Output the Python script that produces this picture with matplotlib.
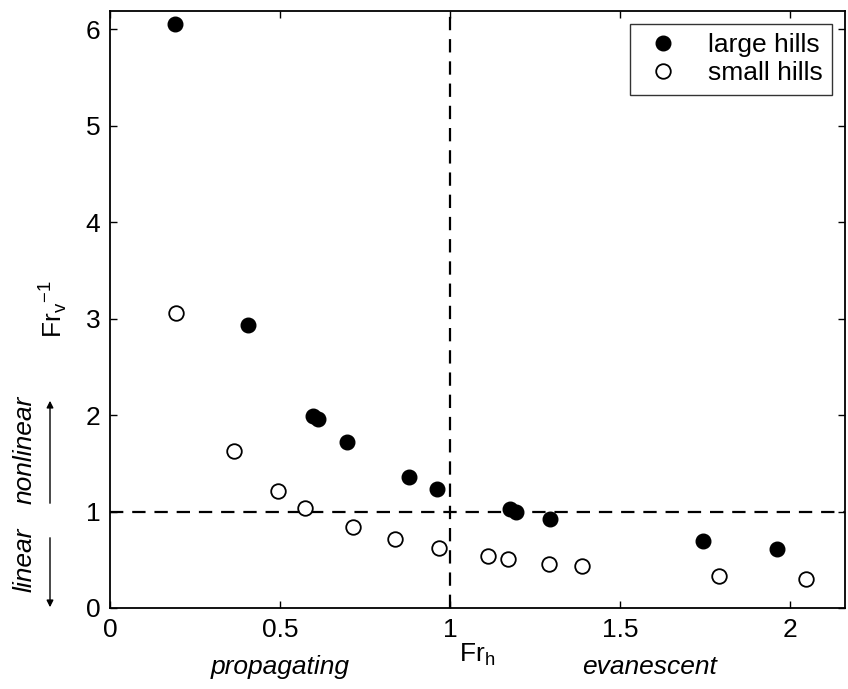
import numpy as np
import matplotlib.pyplot as plt
from matplotlib.patches import FancyArrowPatch

plt.rcParams['font.family'] = ['Liberation Sans', 'DejaVu Sans']

# large hills (filled)
large_fr_h = [0.191, 0.405, 0.598, 0.611, 0.697, 0.879, 0.963, 1.176, 1.194, 1.293, 1.743, 1.961]
large_fr_v_inv = [6.06, 2.93, 1.99, 1.955, 1.717, 1.354, 1.237, 1.023, 0.998, 0.922, 0.698, 0.611]

# small hills (open)
small_fr_h = [0.193, 0.365, 0.494, 0.575, 0.714, 0.838, 0.968, 1.111, 1.170, 1.291, 1.388, 1.792, 2.046]
small_fr_v_inv = [3.06, 1.63, 1.209, 1.036, 0.843, 0.715, 0.618, 0.539, 0.508, 0.456, 0.432, 0.335, 0.297]

fs = 19

fig = plt.figure(figsize=(8.48, 6.89), dpi=100)
ax = fig.add_axes([0.1297, 0.1176, 0.8668, 0.8664])

ax.plot(large_fr_h, large_fr_v_inv, 'o', color='black', markersize=10.5, label='large hills')
ax.plot(small_fr_h, small_fr_v_inv, 'o', markerfacecolor='white', markeredgecolor='black',
        markeredgewidth=1.3, markersize=10.5, label='small hills')

# regime boundaries
ax.axhline(1, color='black', linestyle=(0, (6, 4)), linewidth=1.6, zorder=0)
ax.axvline(1, color='black', linestyle=(0, (6, 4)), linewidth=1.6, zorder=0)

ax.set_xlim(0, 2.162)
ax.set_ylim(0, 6.19)
ax.set_xticks([0, 0.5, 1, 1.5, 2])
ax.set_xticklabels(['0', '0.5', '1', '1.5', '2'])
ax.set_yticks([0, 1, 2, 3, 4, 5, 6])
ax.tick_params(direction='in', top=True, right=True, labelsize=fs, length=5, width=1, pad=7)
for s in ax.spines.values():
    s.set_linewidth(1.3)

ax.set_xlabel('Fr$_\\mathregular{h}$', fontsize=fs, labelpad=0)
ax.set_ylabel('Fr$_\\mathregular{v}$$^\\mathregular{-1}$', fontsize=fs, labelpad=12)

leg = ax.legend(loc='upper right', fontsize=fs, frameon=True, fancybox=False, edgecolor='black',
                handletextpad=0.8, borderpad=0.35, labelspacing=0.15, handlelength=1.8,
                borderaxespad=0.5)
leg.get_frame().set_linewidth(1.0)

# region annotations
fig.text(280 / 848, 1 - 667 / 689, 'propagating', fontsize=fs, style='italic', ha='center', va='center')
fig.text(650 / 848, 1 - 667 / 689, 'evanescent', fontsize=fs, style='italic', ha='center', va='center')
fig.text(25 / 848, 1 - 560 / 689, 'linear', fontsize=fs, style='italic', rotation=90, ha='center', va='center')
fig.text(25 / 848, 1 - 450 / 689, 'nonlinear', fontsize=fs, style='italic', rotation=90, ha='center', va='center')
fig.add_artist(FancyArrowPatch(
    (50 / 848, 1 - 506 / 689), (50 / 848, 1 - 398 / 689), transform=fig.transFigure,
    arrowstyle='-|>', mutation_scale=10, color='black', linewidth=1))
fig.add_artist(FancyArrowPatch(
    (50 / 848, 1 - 535 / 689), (50 / 848, 1 - 610 / 689), transform=fig.transFigure,
    arrowstyle='-|>', mutation_scale=10, color='black', linewidth=1))

fig.savefig('out.png', dpi=100)
